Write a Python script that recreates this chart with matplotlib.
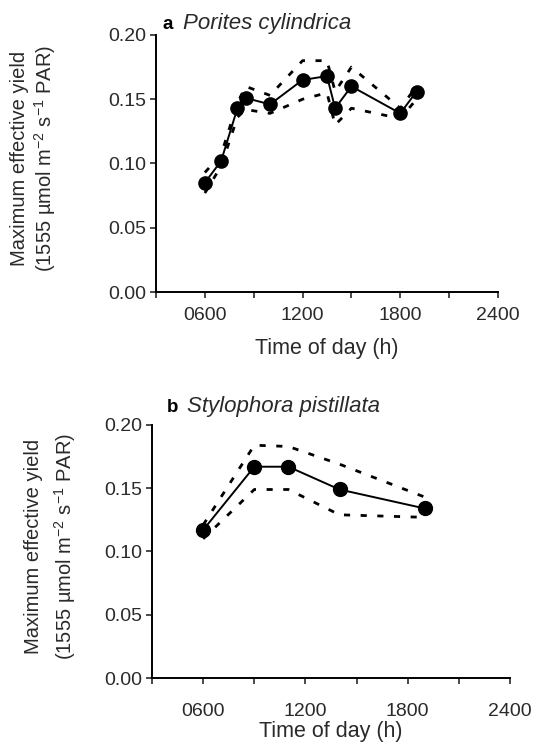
#!/usr/bin/env python3

import matplotlib

matplotlib.use("Agg")
import matplotlib.pyplot as plt

plt.rcParams["font.family"] = ["Liberation Sans", "DejaVu Sans"]

# panel a: Porites cylindrica
A_HOURS = [6.0, 7.0, 8.0, 8.5, 10.0, 12.0, 13.5, 14.0, 15.0, 18.0, 19.0]
A_MEAN = [0.085, 0.102, 0.143, 0.151, 0.146, 0.165, 0.168, 0.143, 0.160, 0.139, 0.156]
A_UPPER = [0.093, 0.107, 0.147, 0.160, 0.153, 0.180, 0.180, 0.156, 0.175, 0.143, 0.160]
A_LOWER = [0.077, 0.098, 0.136, 0.142, 0.139, 0.150, 0.155, 0.130, 0.143, 0.135, 0.150]

# panel b: Stylophora pistillata
B_HOURS = [6.0, 9.0, 11.0, 14.0, 19.0]
B_MEAN = [0.117, 0.167, 0.167, 0.149, 0.134]
B_UPPER = [0.121, 0.184, 0.183, 0.169, 0.143]
B_LOWER = [0.110, 0.149, 0.149, 0.129, 0.127]

X_TICKS = [3, 6, 9, 12, 15, 18, 21, 24]
X_LABELS = ["", "0600", "", "1200", "", "1800", "", "2400"]
Y_TICKS = [0.00, 0.05, 0.10, 0.15, 0.20]

YLABEL = "Maximum effective yield\n(1555 µmol m$^{\\mathregular{-2}}$ s$^{\\mathregular{-1}}$ PAR)"
TEXT_COLOR = "#2a2a2a"


def draw_panel(ax, hours, mean, upper, lower, letter, species, opts):
    dash = (0, (2.2, 3.8))
    ax.plot(hours, upper, color="black", linewidth=2.0, linestyle=dash)
    ax.plot(hours, lower, color="black", linewidth=2.0, linestyle=dash)
    ax.plot(hours, mean, color="black", linewidth=1.4, marker="o",
            markersize=opts["marker"])

    ax.set_xlim(3, 24)
    ax.set_ylim(0, 0.20)
    ax.set_xticks(X_TICKS)
    ax.set_xticklabels(X_LABELS)
    ax.set_yticks(Y_TICKS)
    ax.set_yticklabels([f"{v:.2f}" for v in Y_TICKS])
    ax.tick_params(axis="both", direction="out", length=4, width=1.2,
                   labelsize=14, colors=TEXT_COLOR)
    ax.tick_params(axis="x", pad=opts["xpad"])
    ax.tick_params(axis="y", pad=3)

    for side in ("top", "right"):
        ax.spines[side].set_visible(False)
    for side in ("left", "bottom"):
        ax.spines[side].set_linewidth(1.4)

    ax.set_xlabel("Time of day (h)", fontsize=15.5, color=TEXT_COLOR)
    ax.xaxis.set_label_coords(0.5, opts["xlabel_y"])
    ax.xaxis.label.set_va("center")
    ax.set_ylabel(YLABEL, fontsize=14.5, color=TEXT_COLOR,
                  linespacing=opts["linespacing"])
    ax.yaxis.set_label_coords(opts["ylabel_x"], 0.52)
    ax.yaxis.label.set_va("center")

    ax.text(opts["letter_x"], opts["title_y"], letter, transform=ax.transAxes,
            fontsize=13.5, fontweight="bold", ha="left", va="baseline")
    ax.text(opts["species_x"], opts["title_y"], species, transform=ax.transAxes,
            fontsize=16, fontstyle="italic", ha="left", va="baseline",
            color=TEXT_COLOR)


def main() -> None:
    fig = plt.figure(figsize=(5.33, 7.44), dpi=100)
    ax_a = fig.add_axes([0.2927, 0.6075, 0.6416, 0.3455])
    ax_b = fig.add_axes([0.2852, 0.0887, 0.6717, 0.3401])

    draw_panel(ax_a, A_HOURS, A_MEAN, A_UPPER, A_LOWER,
               "a", "Porites cylindrica",
               dict(marker=9.5, xpad=7, xlabel_y=-0.218, ylabel_x=-0.357,
                    linespacing=1.15, letter_x=0.02, species_x=0.079,
                    title_y=1.023))
    draw_panel(ax_b, B_HOURS, B_MEAN, B_UPPER, B_LOWER,
               "b", "Stylophora pistillata",
               dict(marker=10, xpad=14, xlabel_y=-0.213, ylabel_x=-0.282,
                    linespacing=1.45, letter_x=0.042, species_x=0.098,
                    title_y=1.051))

    fig.savefig("out.png", dpi=100)
    plt.close(fig)


if __name__ == "__main__":
    main()
